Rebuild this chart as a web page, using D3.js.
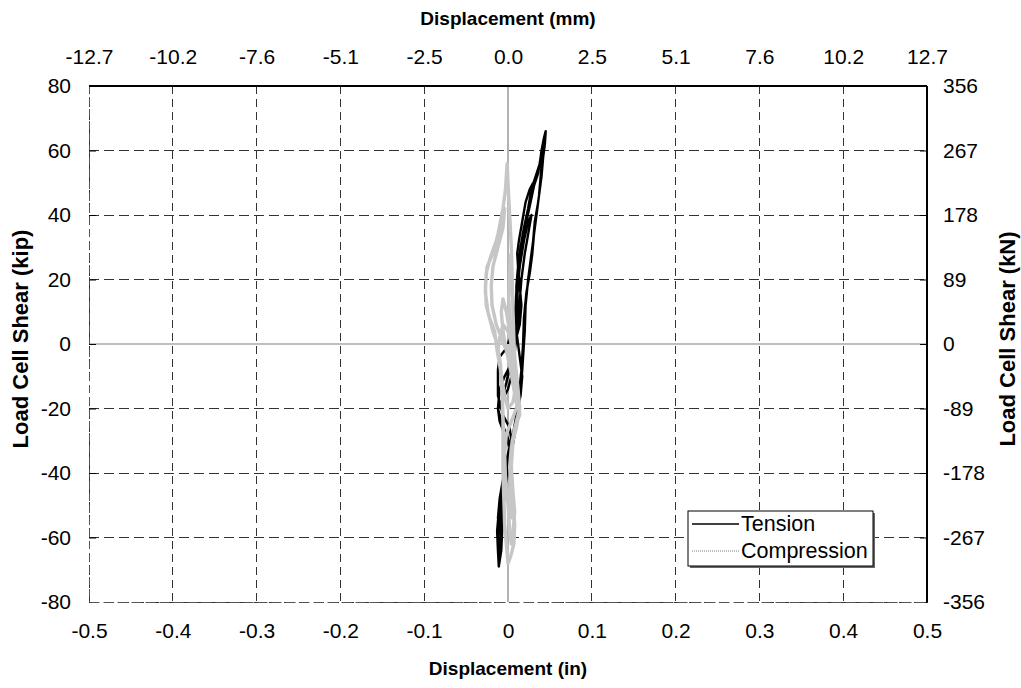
<!DOCTYPE html>
<html>
<head>
<meta charset="utf-8">
<script src="https://cdn.jsdelivr.net/npm/d3@7"></script>
<style>
  body { margin: 0; background: #fff; }
  svg { display: block; font-family: "Liberation Sans", Arial, sans-serif; }
</style>
</head>
<body>
<svg id="chart" width="1021" height="688"></svg>
<script>
// ---- Data ----
const xTicksIn = [-0.5, -0.4, -0.3, -0.2, -0.1, 0.0, 0.1, 0.2, 0.3, 0.4, 0.5];
const xTickLabelsIn = ["-0.5","-0.4","-0.3","-0.2","-0.1","0","0.1","0.2","0.3","0.4","0.5"];
const xTickLabelsMm = ["-12.7","-10.2","-7.6","-5.1","-2.5","0.0","2.5","5.1","7.6","10.2","12.7"];
const yTicksKip = [-80, -60, -40, -20, 0, 20, 40, 60, 80];
const yTickLabelsKip = ["-80","-60","-40","-20","0","20","40","60","80"];
const yTickLabelsKN = ["-356","-267","-178","-89","0","89","178","267","356"];
const seriesNames = ["Tension", "Compression"];

// displacement (in), load cell shear (kip)
const tension = [
  [0,0],[0.006,6],[0.010,14],[0.012,20],[0.010,16],[0.008,8],[0.007,0],[0.004,-6],[-0.002,-12],[-0.006,-16],
  [-0.002,-12],[0.004,-4],[0.010,2],[0.013,10],[0.016,20],[0.020,28],[0.024,34],[0.028,40],[0.024,38],[0.019,32],
  [0.014,24],[0.011,16],[0.010,8],[0.009,0],[0.006,-8],[0.000,-14],[-0.008,-18],[-0.012,-20],[-0.010,-24],[-0.004,-28],
  [0.002,-32],[0.000,-36],[-0.006,-42],[-0.010,-48],[-0.012,-54],[-0.008,-52],[-0.004,-46],[0.000,-40],[0.004,-34],[0.008,-28],
  [0.012,-20],[0.016,-12],[0.018,-4],[0.020,4],[0.021,12],[0.024,20],[0.027,26],[0.030,32],[0.032,38],[0.036,44],
  [0.040,52],[0.042,58],[0.044,62],[0.045,66],[0.043,64],[0.040,60],[0.038,56],[0.033,52],[0.028,48],[0.024,42],
  [0.019,36],[0.015,30],[0.012,24],[0.010,18],[0.010,10],[0.008,0],[0.004,-6],[-0.004,-10],[-0.010,-14],[-0.012,-20],
  [-0.008,-24],[-0.002,-28],[0.004,-32],[0.002,-36],[-0.004,-40],[-0.008,-46],[-0.011,-52],[-0.013,-58],[-0.012,-64],[-0.011,-69],
  [-0.008,-64],[-0.007,-58],[-0.006,-52],[-0.004,-46],[-0.002,-40],[0.002,-34],[0.006,-28],[0.010,-22],[0.013,-16],[0.016,-8],
  [0.018,0],[0.019,8],[0.022,16],[0.026,22],[0.029,28],[0.031,34],[0.034,40],[0.037,46],[0.039,52],[0.041,58],
  [0.044,64],[0.042,62],[0.039,58],[0.036,53],[0.031,49],[0.027,44],[0.022,38],[0.018,32],[0.014,26],[0.012,20],
  [0.011,12],[0.010,4],[0.014,-4],[0.017,-10],[0.015,-16],[0.010,-22],[0.006,-28],[0.003,-34],[-0.002,-38],[-0.007,-44],
  [-0.010,-50],[-0.012,-60],[-0.010,-66],[-0.009,-60],[-0.008,-50],[-0.006,-44],[-0.004,-38],[0.000,-34],[0.004,-30],[0.002,-26],
  [-0.006,-22],[-0.012,-16],[-0.012,-8],[-0.010,-4],[-0.004,-2],[0.004,0],[0.010,2],[0.014,6],[0.016,12],[0.014,18],
  [0.012,24],[0.011,28],[0.013,32],[0.017,38],[0.021,44],[0.026,48],[0.030,50]
];

const compression = [
  [0,0],[0.004,-6],[0.008,-12],[0.010,-18],[0.007,-14],[0.003,-8],[-0.002,-2],[-0.006,4],[-0.008,10],[-0.006,14],
  [-0.002,10],[0.002,4],[0.006,-2],[0.010,-10],[0.013,-18],[0.014,-22],[0.008,-26],[0.004,-32],[0.002,-38],[0.003,-44],
  [0.004,-50],[0.005,-54],[0.002,-50],[-0.002,-44],[-0.004,-38],[-0.005,-30],[-0.006,-22],[-0.007,-14],[-0.009,-6],[-0.013,0],
  [-0.018,4],[-0.024,10],[-0.027,16],[-0.026,22],[-0.022,26],[-0.014,32],[-0.008,38],[-0.004,42],[-0.006,36],[-0.012,30],
  [-0.018,24],[-0.020,18],[-0.019,12],[-0.014,6],[-0.008,2],[-0.002,-2],[0.004,-8],[0.010,-14],[0.014,-20],[0.010,-24],
  [0.005,-30],[0.003,-36],[0.004,-42],[0.006,-48],[0.008,-56],[0.007,-62],[0.003,-66],[0,-68],[-0.002,-62],[-0.004,-56],
  [-0.005,-48],[-0.006,-40],[-0.006,-32],[-0.006,-24],[-0.007,-16],[-0.009,-8],[-0.013,-2],[-0.016,4],[-0.022,8],[-0.026,12],
  [-0.027,18],[-0.025,24],[-0.018,28],[-0.012,34],[-0.006,42],[-0.003,48],[-0.001,56],[0.000,50],[0.002,40],[0.004,30],
  [0.005,20],[0.006,10],[0.007,2],[0.008,-4],[0.012,-14],[0.014,-20],[0.010,-26],[0.006,-30],[0.004,-38],[0.006,-46],
  [0.008,-52],[0.006,-58],[0.004,-62],[0.002,-58],[0,-50],[-0.003,-42],[-0.004,-34],[-0.002,-28],[0.004,-24],[0.010,-20],
  [0.012,-14],[0.008,-6],[0.004,0],[0,4],[-0.006,6],[-0.010,2],[-0.012,-2],[-0.008,-10],[-0.004,-16],[0,-20],
  [0.006,-18],[0.010,-12],[0.008,-4],[0.004,2],[0.002,8],[0.001,14],[0.002,22],[0.003,28]
];

// ---- Layout ----
const svg = d3.select("#chart");
const L = 89, T = 86, W = 838, H = 516;
const x = d3.scaleLinear().domain([-0.5, 0.5]).range([L, L + W]);
const y = d3.scaleLinear().domain([-80, 80]).range([T + H, T]);
const FONT = 21;

svg.append("rect").attr("x", L).attr("y", T).attr("width", W).attr("height", H).attr("fill", "#fff");

// gridlines (dashed)
const grid = svg.append("g");
grid.selectAll("line.vg").data(xTicksIn.filter(d => d !== 0)).enter().append("line")
  .attr("x1", d => x(d)).attr("x2", d => x(d)).attr("y1", T).attr("y2", T + H)
  .attr("stroke", "#333").attr("stroke-width", 1).attr("stroke-dasharray", "8,5")
  .attr("shape-rendering", "crispEdges");
grid.selectAll("line.hg").data(yTicksKip.filter(d => d !== 0)).enter().append("line")
  .attr("y1", d => y(d)).attr("y2", d => y(d)).attr("x1", L).attr("x2", L + W)
  .attr("stroke", "#333").attr("stroke-width", 1).attr("stroke-dasharray", "10,5")
  .attr("shape-rendering", "crispEdges");

// zero lines (solid gray)
svg.append("line").attr("x1", x(0)).attr("x2", x(0)).attr("y1", T).attr("y2", T + H)
  .attr("stroke", "#808080").attr("stroke-width", 1.2);
svg.append("line").attr("y1", y(0)).attr("y2", y(0)).attr("x1", L).attr("x2", L + W)
  .attr("stroke", "#808080").attr("stroke-width", 1.2);

// top and right solid border
svg.append("line").attr("x1", L).attr("x2", L + W).attr("y1", T).attr("y2", T)
  .attr("stroke", "#000").attr("stroke-width", 1.2).attr("shape-rendering", "crispEdges");
svg.append("line").attr("x1", L + W).attr("x2", L + W).attr("y1", T).attr("y2", T + H)
  .attr("stroke", "#000").attr("stroke-width", 1.2).attr("shape-rendering", "crispEdges");

// axes
const axL = d3.axisLeft(y).tickValues(yTicksKip).tickSize(-7).tickPadding(18)
  .tickFormat((d, i) => yTickLabelsKip[i]);
const axR = d3.axisRight(y).tickValues(yTicksKip).tickSize(-7).tickPadding(16)
  .tickFormat((d, i) => yTickLabelsKN[i]);
const axB = d3.axisBottom(x).tickValues(xTicksIn).tickSize(0).tickPadding(21)
  .tickFormat((d, i) => xTickLabelsIn[i]);
const axT = d3.axisTop(x).tickValues(xTicksIn).tickSize(0).tickPadding(22)
  .tickFormat((d, i) => xTickLabelsMm[i]);

function styleAxis(g) {
  g.select(".domain").attr("stroke", "#000");
  g.selectAll(".tick line").attr("stroke", "#000");
  g.selectAll(".tick text").attr("font-size", FONT).attr("fill", "#000")
    .attr("font-family", "'Liberation Sans', Arial, sans-serif");
}
svg.append("g").attr("transform", `translate(${L},0)`).call(axL).call(styleAxis)
  .select(".domain").attr("stroke", "#555").attr("stroke-dasharray", "8,4");
svg.append("g").attr("transform", `translate(${L + W},0)`).call(axR).call(styleAxis);
svg.append("g").attr("transform", `translate(0,${T + H})`).call(axB).call(styleAxis)
  .select(".domain").attr("stroke", "#555").attr("stroke-dasharray", "10,4");
svg.append("g").attr("transform", `translate(0,${T})`).call(axT).call(styleAxis);

// series
const line = d3.line().x(d => x(d[0])).y(d => y(d[1]));
svg.append("path").datum(tension).attr("d", line)
  .attr("fill", "none").attr("stroke", "#000").attr("stroke-width", 2.4).attr("stroke-linejoin", "round");
svg.append("path").datum(compression).attr("d", line)
  .attr("fill", "none").attr("stroke", "#c6c6c6").attr("stroke-width", 3.4).attr("stroke-linejoin", "round");

// titles
svg.append("text").attr("x", x(0)).attr("y", 25).attr("text-anchor", "middle")
  .attr("font-size", 19).attr("font-weight", "bold").text("Displacement (mm)");
svg.append("text").attr("x", x(0)).attr("y", 675).attr("text-anchor", "middle")
  .attr("font-size", 19).attr("font-weight", "bold").text("Displacement (in)");
svg.append("text").attr("transform", "translate(28,339) rotate(-90)").attr("text-anchor", "middle")
  .attr("font-size", 22).attr("font-weight", "bold").text("Load Cell Shear (kip)");
svg.append("text").attr("transform", "translate(1015,339) rotate(-90)").attr("text-anchor", "middle")
  .attr("font-size", 22).attr("font-weight", "bold").text("Load Cell Shear (kN)");

// legend
const lg = svg.append("g").attr("transform", "translate(688,511)");
lg.append("rect").attr("x", 2).attr("y", 2).attr("width", 185).attr("height", 55).attr("fill", "#666");
lg.append("rect").attr("x", 0).attr("y", 0).attr("width", 185).attr("height", 55)
  .attr("fill", "#fff").attr("stroke", "#000").attr("stroke-width", 1);
const legendStyles = [
  { stroke: "#000", width: 1.5, dash: null },
  { stroke: "#aaa", width: 1.5, dash: "1,1" }
];
seriesNames.forEach((name, i) => {
  const yy = 13 + i * 27;
  lg.append("line").attr("x1", 4).attr("x2", 51).attr("y1", yy).attr("y2", yy)
    .attr("stroke", legendStyles[i].stroke).attr("stroke-width", legendStyles[i].width)
    .attr("stroke-dasharray", legendStyles[i].dash);
  lg.append("text").attr("x", 53).attr("y", yy + 7).attr("font-size", 21.5).text(name);
});
</script>
</body>
</html>
